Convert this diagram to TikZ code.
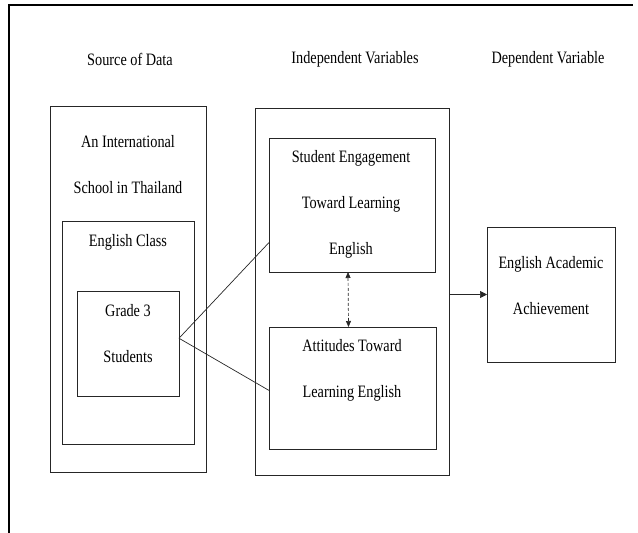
\documentclass[tikz,border=0pt]{standalone}
\usepackage{fontspec}
\setmainfont{Liberation Serif}[FakeStretch=0.82]
\usetikzlibrary{calc,arrows.meta}
\begin{document}
\begin{tikzpicture}[x=1pt,y=-1pt,
  box/.style={draw=black!85,line width=0.7pt,inner sep=0pt,outer sep=0pt,anchor=north west},
  txt/.style={font=\fontsize{17.4}{46}\selectfont,align=center,inner sep=0pt},
  conn/.style={draw=black!85,line width=0.7pt}]
\useasboundingbox (0,0) rectangle (638,533);
\draw[line width=1.6pt] (9,533) -- (9,5) -- (633,5);
% headings
\node[txt] (h1) at (130,59) {Source of Data};
\node[txt] (h2) at (355,59) {Independent Variables};
\node[txt] (h3) at (548,59) {Dependent Variable};
% boxes
\node[box,minimum width=156pt,minimum height=366pt] (src) at (50,106) {};
\node[box,minimum width=132pt,minimum height=223pt] (cls) at (62,221) {};
\node[box,minimum width=102pt,minimum height=105pt] (g3) at (77,291) {};
\node[box,minimum width=194pt,minimum height=367pt] (ind) at (255,108) {};
\node[box,minimum width=166pt,minimum height=134pt] (se) at (269,138) {};
\node[box,minimum width=167pt,minimum height=122pt] (att) at (269,327) {};
\node[box,minimum width=128pt,minimum height=135pt] (ach) at (487,227) {};
% texts
\node[txt] (t1) at (128,165) {An International\\School in Thailand};
\node[txt] (t2) at (128,242) {English Class};
\node[txt] (t3) at (128,334) {Grade 3\\Students};
\node[txt] (t4) at (351,204) {Student Engagement\\Toward Learning\\English};
\node[txt] (t5) at (352,370) {Attitudes Toward\\Learning English};
\node[txt] (t6) at (551,286) {English Academic\\Achievement};
% connectors
\coordinate (g3e) at ($(g3.north east)!0.45!(g3.south east)$);
\coordinate (sew) at ($(se.north west)!0.78!(se.south west)$);
\coordinate (attw) at ($(att.north west)!0.52!(att.south west)$);
\draw[conn] (g3e) -- (sew);
\draw[conn] (g3e) -- (attw);
\draw[conn,dashed,dash pattern=on 3pt off 2pt,{Triangle[length=6pt,width=5pt]}-{Triangle[length=6pt,width=5pt]}] ([xshift=-4pt]se.south) -- ([xshift=-4pt]att.north);
\draw[conn,-{Triangle[length=7pt,width=7pt]}] (ind.east |- ach.west) -- (ach.west);
\end{tikzpicture}
\end{document}
